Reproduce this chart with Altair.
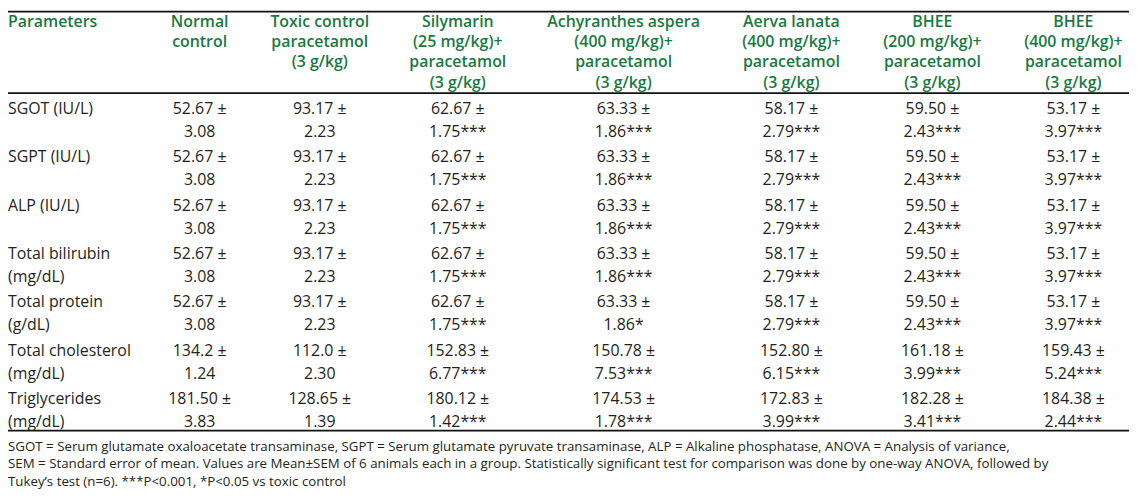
import altair as alt
import pandas as pd

# ---------------- data ----------------
parameters = ["SGOT (IU/L)", "SGPT (IU/L)", "ALP (IU/L)", "Total bilirubin",
              "Total protein", "Total cholesterol", "Triglycerides"]
parameter_units = ["", "", "", "(mg/dL)", "(g/dL)", "(mg/dL)", "(mg/dL)"]

groups = ["normal", "toxic", "silymarin", "achyranthes", "aerva", "bhee200", "bhee400"]
group_headers = [
    ["Normal", "control"],
    ["Toxic control", "paracetamol", "(3 g/kg)"],
    ["Silymarin", "(25 mg/kg)+", "paracetamol", "(3 g/kg)"],
    ["Achyranthes aspera", "(400 mg/kg)+", "paracetamol", "(3 g/kg)"],
    ["Aerva lanata", "(400 mg/kg)+", "paracetamol", "(3 g/kg)"],
    ["BHEE", "(200 mg/kg)+", "paracetamol", "(3 g/kg)"],
    ["BHEE", "(400 mg/kg)+", "paracetamol", "(3 g/kg)"],
]

normal_mean = ["52.67", "52.67", "52.67", "52.67", "52.67", "134.2", "181.50"]
normal_sem = ["3.08", "3.08", "3.08", "3.08", "3.08", "1.24", "3.83"]
normal_sig = ["", "", "", "", "", "", ""]

toxic_mean = ["93.17", "93.17", "93.17", "93.17", "93.17", "112.0", "128.65"]
toxic_sem = ["2.23", "2.23", "2.23", "2.23", "2.23", "2.30", "1.39"]
toxic_sig = ["", "", "", "", "", "", ""]

silymarin_mean = ["62.67", "62.67", "62.67", "62.67", "62.67", "152.83", "180.12"]
silymarin_sem = ["1.75", "1.75", "1.75", "1.75", "1.75", "6.77", "1.42"]
silymarin_sig = ["***", "***", "***", "***", "***", "***", "***"]

achyranthes_mean = ["63.33", "63.33", "63.33", "63.33", "63.33", "150.78", "174.53"]
achyranthes_sem = ["1.86", "1.86", "1.86", "1.86", "1.86", "7.53", "1.78"]
achyranthes_sig = ["***", "***", "***", "***", "*", "***", "***"]

aerva_mean = ["58.17", "58.17", "58.17", "58.17", "58.17", "152.80", "172.83"]
aerva_sem = ["2.79", "2.79", "2.79", "2.79", "2.79", "6.15", "3.99"]
aerva_sig = ["***", "***", "***", "***", "***", "***", "***"]

bhee200_mean = ["59.50", "59.50", "59.50", "59.50", "59.50", "161.18", "182.28"]
bhee200_sem = ["2.43", "2.43", "2.43", "2.43", "2.43", "3.99", "3.41"]
bhee200_sig = ["***", "***", "***", "***", "***", "***", "***"]

bhee400_mean = ["53.17", "53.17", "53.17", "53.17", "53.17", "159.43", "184.38"]
bhee400_sem = ["3.97", "3.97", "3.97", "3.97", "3.97", "5.24", "2.44"]
bhee400_sig = ["***", "***", "***", "***", "***", "***", "***"]

footnotes = [
    "SGOT = Serum glutamate oxaloacetate transaminase, SGPT = Serum glutamate pyruvate transaminase, ALP = Alkaline phosphatase, ANOVA = Analysis of variance,",
    "SEM = Standard error of mean. Values are Mean\u00b1SEM of 6 animals each in a group. Statistically significant test for comparison was done by one-way ANOVA, followed by",
    "Tukey\u2019s test (n=6). ***P<0.001, *P<0.05 vs toxic control",
]

# ---------------- layout (page-pixel units) ----------------
W, H = 1129, 489
col_x = {"param": 8, "normal": 201, "toxic": 322, "silymarin": 461, "achyranthes": 628,
         "aerva": 797, "bhee200": 939, "bhee400": 1081}
header_y0, header_dy = 20, 20.5
row_y0, row_dy, line_dy = 108, 48.7, 23
foot_y0, foot_dy = 448, 18
rule_ys = [10, 92, 432]

GREEN = "#187a42"
INK = "#231f20"
FONT = "Open Sans"
BODY_SIZE = 16
HEAD_SIZE = 16
FOOT_SIZE = 13.4

series = {
    "normal": (normal_mean, normal_sem, normal_sig),
    "toxic": (toxic_mean, toxic_sem, toxic_sig),
    "silymarin": (silymarin_mean, silymarin_sem, silymarin_sig),
    "achyranthes": (achyranthes_mean, achyranthes_sem, achyranthes_sig),
    "aerva": (aerva_mean, aerva_sem, aerva_sig),
    "bhee200": (bhee200_mean, bhee200_sem, bhee200_sig),
    "bhee400": (bhee400_mean, bhee400_sem, bhee400_sig),
}

head_rows = [{"x": col_x["param"], "y": header_y0, "t": "Parameters", "a": "left"}]
for g, lines in zip(groups, group_headers):
    for k, t in enumerate(lines):
        head_rows.append({"x": col_x[g], "y": header_y0 + k * header_dy, "t": t, "a": "center"})
head_df = pd.DataFrame(head_rows)

param_rows = []
for r, (p, u) in enumerate(zip(parameters, parameter_units)):
    param_rows.append({"x": col_x["param"], "y": row_y0 + r * row_dy, "t": p})
    if u:
        param_rows.append({"x": col_x["param"], "y": row_y0 + r * row_dy + line_dy, "t": u})
param_df = pd.DataFrame(param_rows)

cell_rows = []
for g in groups:
    m, s, sg = series[g]
    for r in range(len(parameters)):
        cell_rows.append({"x": col_x[g], "y": row_y0 + r * row_dy, "t": m[r] + " \u00b1"})
        cell_rows.append({"x": col_x[g], "y": row_y0 + r * row_dy + line_dy, "t": s[r] + sg[r]})
cell_df = pd.DataFrame(cell_rows)

foot_df = pd.DataFrame([{"x": col_x["param"], "y": foot_y0 + i * foot_dy, "t": t}
                        for i, t in enumerate(footnotes)])
rule_df = pd.DataFrame({"y": rule_ys})

xs = alt.Scale(domain=[8, 8 + W], range=[0, W], nice=False, zero=False)
ys = alt.Scale(domain=[8, 8 + H], range=[0, H], nice=False, zero=False)
X = alt.X("x:Q", scale=xs, axis=None)
Y = alt.Y("y:Q", scale=ys, axis=None)

header_left = alt.Chart(head_df[head_df.a == "left"]).mark_text(
    align="left", baseline="middle", font=FONT, fontSize=HEAD_SIZE, fontWeight=600, color=GREEN
).encode(x=X, y=Y, text="t:N")
header_center = alt.Chart(head_df[head_df.a == "center"]).mark_text(
    align="center", baseline="middle", font=FONT, fontSize=HEAD_SIZE, fontWeight=600, color=GREEN
).encode(x=X, y=Y, text="t:N")
params = alt.Chart(param_df).mark_text(
    align="left", baseline="middle", font=FONT, fontSize=BODY_SIZE, color=INK
).encode(x=X, y=Y, text="t:N")
cells = alt.Chart(cell_df).mark_text(
    align="center", baseline="middle", font=FONT, fontSize=BODY_SIZE, color=INK
).encode(x=X, y=Y, text="t:N")
foot = alt.Chart(foot_df).mark_text(
    align="left", baseline="middle", font=FONT, fontSize=FOOT_SIZE, color=INK
).encode(x=X, y=Y, text="t:N")
rules = alt.Chart(rule_df).mark_rule(color="#111111", strokeWidth=1.8).encode(
    y=Y, x=alt.value(0), x2=alt.value(W)
)

chart = alt.layer(rules, header_left, header_center, params, cells, foot).properties(
    width=W, height=H, padding=0, background="white",
    autosize=alt.AutoSizeParams(type="none"),
).configure_view(stroke=None)

chart.save("out.html", embed_options={"renderer": "svg", "actions": False})
